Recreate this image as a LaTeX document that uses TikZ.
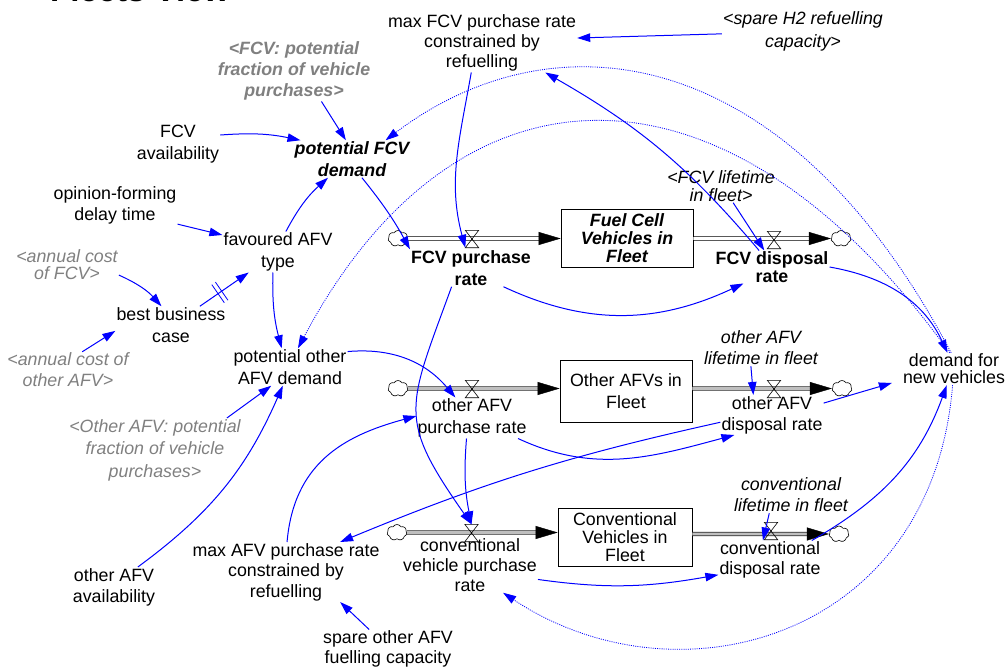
\documentclass[tikz,border=0pt]{standalone}
\usepackage{fontspec}
\setmainfont{Liberation Sans}
\usetikzlibrary{arrows.meta,shapes.symbols,decorations.markings}
\definecolor{lnk}{RGB}{0,0,255}
\definecolor{shd}{RGB}{128,128,128}
\newcommand\myfs[1]{\fontsize{17.8}{#1}\selectfont}
\begin{document}
\begin{tikzpicture}[x=1pt,y=1pt,
  txt/.style={align=center,inner sep=1pt},
  lnkarrow/.style={draw=lnk,line width=1pt,-{Triangle[length=13pt,width=8.5pt]}},
  dotlink/.style={draw=lnk,line width=.8pt,dash pattern=on 1pt off 1.2pt,-{Triangle[length=13pt,width=8.5pt]}},
  stock/.style={draw,line width=.8pt,align=center,inner sep=1pt,minimum width=132pt,minimum height=58pt},
  valvenode/.style={minimum width=13pt,minimum height=17pt,inner sep=0pt},
  cloudnode/.style={cloud,draw,cloud puffs=7,cloud puff arc=120,aspect=1.25,minimum width=20pt,minimum height=16pt,inner sep=0pt,line width=.6pt,fill=white},
  pipeA/.style={draw=black,double=white,double distance=2.8pt,line width=.8pt},
  pipeB/.style={draw=black!85,double=black!25,double distance=2.8pt,line width=.7pt},
  flowtip/.style={draw=black,line width=.4pt,-{Triangle[length=22pt,width=13pt]}},
  delaymark/.style={postaction={decorate},decoration={markings,mark=at position 0.41 with {\draw[draw=lnk,line width=.8pt,-] (-2.2pt,-11pt) -- (-2.2pt,11pt) (2.2pt,-11pt) -- (2.2pt,11pt);}}}
]
\fill[white] (0,0) rectangle (1008,-669);
\useasboundingbox (0,0) rectangle (1008,-669);

\node[anchor=base west,inner sep=0pt,font=\fontsize{33}{36}\selectfont\bfseries] (title) at (50,-1.5) {Fleets View};

% auxiliaries and constants
\node[txt,font=\myfs{20}] (maxfcv) at (482,-43) {max FCV purchase rate\\constrained by\\refuelling};
\node[txt,font=\myfs{23}\itshape] (spareh2) at (803,-31) {<spare H2 refuelling\\capacity>};
\node[txt,font=\myfs{21}\bfseries\itshape,text=shd] (fcvfrac) at (294,-71) {<FCV: potential\\fraction of vehicle\\purchases>};
\node[txt,font=\myfs{22}] (fcvavail) at (178,-144) {FCV\\availability};
\node[txt,font=\myfs{22}\bfseries\itshape] (pfcv) at (352,-159) {potential FCV\\demand};
\node[txt,font=\myfs{21}] (opinion) at (115,-205) {opinion-forming\\delay time};
\node[txt,font=\myfs{22}] (fav) at (278,-252) {favoured AFV\\type};
\node[txt,font=\myfs{17}\itshape,text=shd] (acfcv) at (67,-265) {<annual cost\\of FCV>};
\node[txt,font=\myfs{22}] (bbc) at (171,-325) {best business\\case};
\node[txt,font=\myfs{21}\itshape,text=shd] (acother) at (68,-370) {<annual cost of\\other AFV>};
\node[txt,font=\myfs{22}] (poafv) at (290,-367) {potential other\\AFV demand};
\node[txt,font=\myfs{22.5}\itshape,text=shd] (ofrac) at (155,-450) {<Other AFV: potential\\fraction of vehicle\\purchases>};
\node[txt,font=\myfs{21}] (oavail) at (114,-587) {other AFV\\availability};
\node[txt,font=\myfs{20.5}] (maxafv) at (286,-572) {max AFV purchase rate\\constrained by\\refuelling};
\node[txt,font=\myfs{20}] (spareoth) at (388,-649) {spare other AFV\\fuelling capacity};
\node[txt,font=\myfs{18}\itshape] (fcvlife) at (721,-186) {<FCV lifetime\\in fleet>};
\node[txt,font=\myfs{21}\itshape] (oafvlife) at (761,-348) {other AFV\\lifetime in fleet};
\node[txt,font=\myfs{21}\itshape] (convlife) at (791,-495) {conventional\\lifetime in fleet};
\node[txt,font=\myfs{17}] (dnv) at (954,-369) {demand for\\new vehicles};

% stocks
\node[stock,font=\myfs{18}\bfseries\itshape] (fcvbox) at (627,-238) {Fuel Cell\\Vehicles in\\Fleet};
\node[stock,font=\myfs{22},minimum height=62pt] (oafvbox) at (626,-391) {Other AFVs in\\Fleet};
\node[stock,font=\myfs{18},minimum width=134pt] (convbox) at (625,-537) {Conventional\\Vehicles in\\Fleet};

% clouds
\node[cloudnode] (cfl) at (398,-238.5) {};
\node[cloudnode] (cfr) at (841,-238.5) {};
\node[cloudnode] (col) at (398,-388.5) {};
\node[cloudnode] (cor) at (842,-388.5) {};
\node[cloudnode] (ccl) at (397,-532.5) {};
\node[cloudnode] (ccr) at (839,-534) {};

% valves
\node[valvenode] (vfp) at (472,-239) {};
\node[valvenode] (vfd) at (774,-240) {};
\node[valvenode] (vop) at (472,-389) {};
\node[valvenode] (vod) at (774,-389) {};
\node[valvenode] (vcp) at (471.5,-533) {};
\node[valvenode] (vcd) at (771,-531) {};

% pipes
\draw[pipeA,shorten >=20pt] (cfl) -- (cfl -| fcvbox.west);
\draw[flowtip] (cfl -| fcvbox.west) ++(-22,0) -- (cfl -| fcvbox.west);
\draw[pipeA,shorten >=20pt] (cfr -| fcvbox.east) -- (cfr);
\draw[flowtip] (cfr.west) ++(-22,0) -- (cfr.west);
\draw[pipeB,shorten >=20pt] (col) -- (col -| oafvbox.west);
\draw[flowtip] (col -| oafvbox.west) ++(-22,0) -- (col -| oafvbox.west);
\draw[pipeB,shorten >=20pt] (cor -| oafvbox.east) -- (cor);
\draw[flowtip] (cor.west) ++(-22,0) -- (cor.west);
\draw[pipeB,shorten >=20pt] (ccl) -- (ccl -| convbox.west);
\draw[flowtip] (ccl -| convbox.west) ++(-22,0) -- (ccl -| convbox.west);
\draw[pipeB,shorten >=20pt] (ccr -| convbox.east) -- (ccr);
\draw[flowtip] (ccr.west) ++(-22,0) -- (ccr.west);
\foreach \v in {vfp,vfd,vop,vod,vcp,vcd}
  \draw[line width=.6pt] (\v.north west) -- (\v.north east) -- (\v.south west) -- (\v.south east) -- cycle;

% flow labels
\node[txt,font=\myfs{22}\bfseries] (fcvpr) at (471,-268) {FCV purchase\\rate};
\node[txt,font=\myfs{17.5}\bfseries] (fcvdr) at (772,-267) {FCV disposal\\rate};
\node[txt,font=\myfs{22}] (oafvpr) at (472,-418) {other AFV\\purchase rate};
\node[txt,font=\myfs{21}] (oafvdr) at (772,-415) {other AFV\\disposal rate};
\node[txt,font=\myfs{20}] (convpr) at (470,-565) {conventional\\vehicle purchase\\rate};
\node[txt,font=\myfs{20}] (convdr) at (770,-560) {conventional\\disposal rate};

% links
\draw[lnkarrow] (spareh2.182) -- (maxfcv.3);
\draw[lnkarrow] (fcvfrac.-48) -- (pfcv.108);
\draw[lnkarrow] (fcvavail.12) to[bend left=8] (pfcv.160);
\draw[lnkarrow] (opinion.-17) -- (fav.163);
\draw[lnkarrow] (fav.69) to[bend left=10] (pfcv.218);
\draw[lnkarrow] (acfcv.-11) to[bend left=12] (bbc.117);
\draw[lnkarrow,delaymark] (bbc.33) -- (fav.215);
\draw[lnkarrow] (acother.52) -- (bbc.186);
\draw[lnkarrow] (fav.-104) to[bend right=8] (poafv.114);
\draw[lnkarrow] (ofrac.24) -- (poafv.225);
\draw[lnkarrow] (oavail.40) to[bend right=15] (poafv.249);
\draw[lnkarrow] (poafv.15) to[out=5,in=130] (oafvpr.129);
\draw[lnkarrow] (pfcv.-62) to[bend left=5] (fcvpr.north west);
\draw[lnkarrow] (maxfcv.-110) to[out=-100,in=105] (vfp.south west);
\draw[lnkarrow] (fcvpr.-30) to[out=-25,in=205] (fcvdr.210);
\draw[lnkarrow] (fcvpr.224) to[out=-110,in=125,looseness=1.4] (vcp.north);
\draw[lnkarrow] (maxafv.88) to[out=85,in=195,looseness=1.1] (oafvpr.178);
\draw[lnkarrow] (oafvpr.-105) to[bend right=8] (vcp.north);
\draw[lnkarrow] (oafvpr.-24) to[out=-25,in=195] (oafvdr.208);
\draw[lnkarrow] (oafvdr.188) to[bend right=5] (maxafv.29);
\draw[lnkarrow] (convpr.-12) to[out=-8,in=190] (convdr.196);
\draw[lnkarrow] (spareoth.134) -- (maxafv.-29);
\draw[lnkarrow] (oafvlife.241) -- (oafvdr.133);
\draw[lnkarrow] (fcvlife.-54) -- (fcvdr.115);
\draw[lnkarrow] (fcvdr.128) to[bend right=10] (maxfcv.-25);
\draw[lnkarrow] (fcvdr.east) to[out=-10,in=115] (dnv.112);
\draw[lnkarrow] (oafvdr.13) -- ([xshift=-10pt]dnv.195);
\draw[lnkarrow] (convdr.25) to[out=30,in=-110] (dnv.246);
\draw[lnkarrow] (convlife.220) -- (convdr.110);

% dotted links from demand for new vehicles
\draw[dotlink] (dnv.100) .. controls (784,-36) and (551,-15) .. ([xshift=-25pt]pfcv.north east);
\draw[dotlink] (dnv.105) .. controls (724,-39) and (455,-52) .. (poafv.67);
\draw[dotlink] (dnv.-95) .. controls (932,-640) and (677,-708) .. (convpr.-40);
\end{tikzpicture}
\end{document}
